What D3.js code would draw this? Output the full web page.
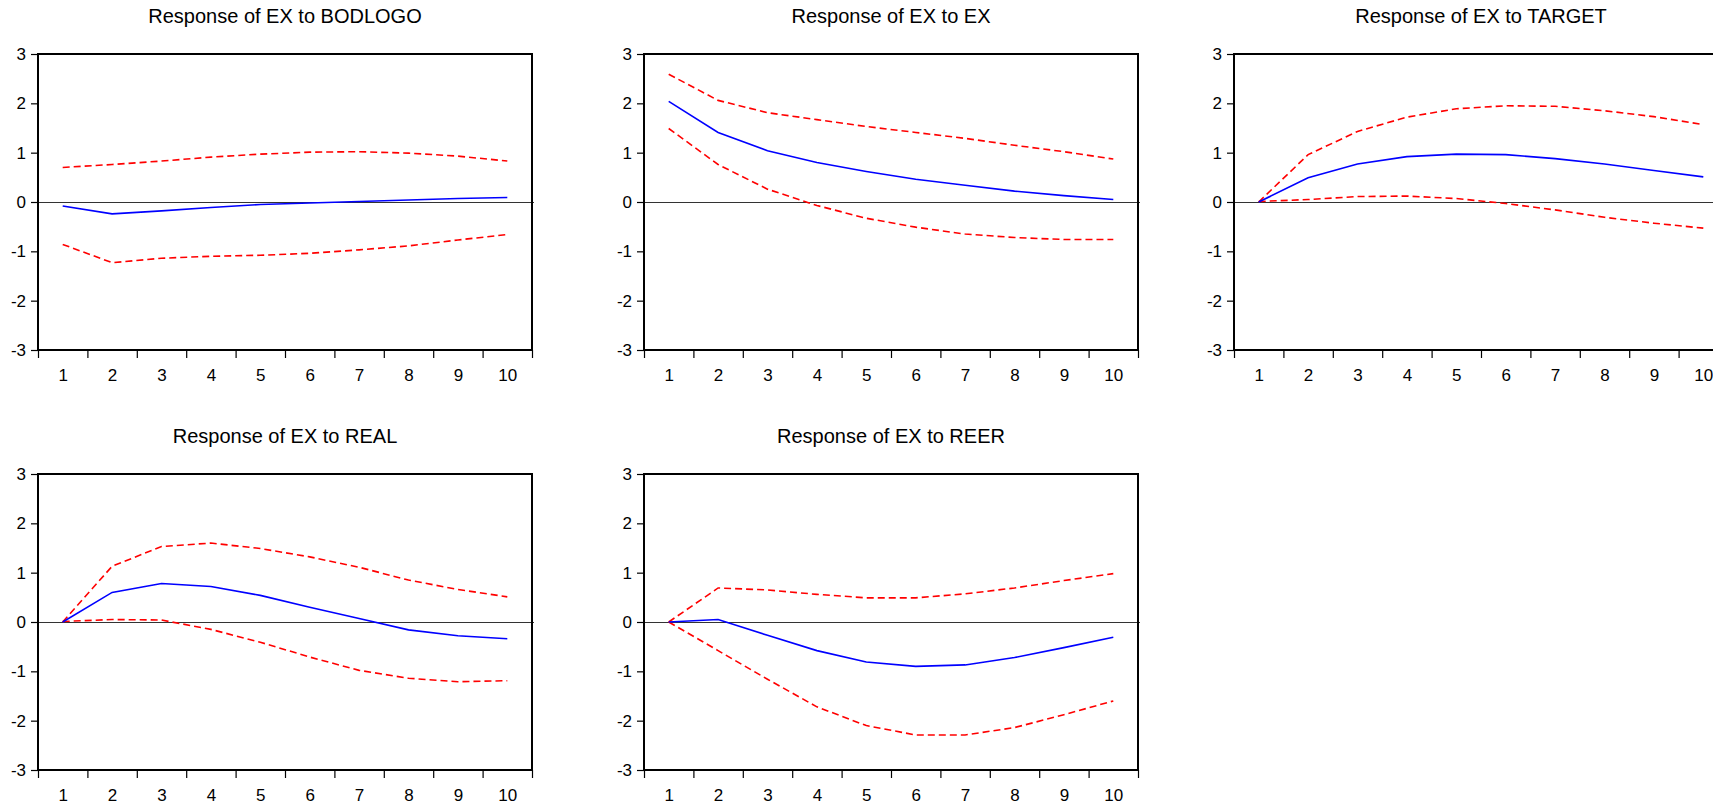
<!DOCTYPE html>
<html>
<head>
<meta charset="utf-8">
<script src="https://cdn.jsdelivr.net/npm/d3@7"></script>
<style>
  body { margin: 0; background: #fff; }
  svg { display: block; font-family: "Liberation Sans", Arial, sans-serif; }
</style>
</head>
<body>
<div id="chart"></div>
<script>
// periods on the x axis
const periods = [1, 2, 3, 4, 5, 6, 7, 8, 9, 10];
const yTicks = [-3, -2, -1, 0, 1, 2, 3];

// response of EX to BODLOGO
const bodlogo_resp  = [-0.08, -0.24, -0.18, -0.11, -0.05, -0.02, 0.01, 0.04, 0.07, 0.09];
const bodlogo_upper = [0.70, 0.76, 0.83, 0.91, 0.97, 1.01, 1.02, 0.99, 0.93, 0.83];
const bodlogo_lower = [-0.86, -1.23, -1.14, -1.10, -1.08, -1.04, -0.97, -0.89, -0.77, -0.66];

// response of EX to EX
const ex_resp  = [2.04, 1.41, 1.04, 0.80, 0.62, 0.46, 0.34, 0.22, 0.13, 0.05];
const ex_upper = [2.59, 2.06, 1.81, 1.67, 1.53, 1.41, 1.29, 1.15, 1.02, 0.87];
const ex_lower = [1.49, 0.76, 0.26, -0.07, -0.33, -0.51, -0.65, -0.72, -0.76, -0.76];

// response of EX to TARGET
const target_resp  = [0.00, 0.49, 0.77, 0.92, 0.97, 0.96, 0.88, 0.77, 0.64, 0.51];
const target_upper = [0.00, 0.96, 1.43, 1.72, 1.89, 1.95, 1.94, 1.85, 1.73, 1.57];
const target_lower = [0.01, 0.05, 0.11, 0.12, 0.07, -0.03, -0.16, -0.31, -0.43, -0.53];

// response of EX to REAL
const real_resp  = [0.00, 0.60, 0.78, 0.72, 0.54, 0.30, 0.07, -0.16, -0.28, -0.34];
const real_upper = [0.00, 1.13, 1.53, 1.60, 1.49, 1.32, 1.11, 0.85, 0.66, 0.51];
const real_lower = [0.01, 0.05, 0.04, -0.15, -0.41, -0.71, -0.98, -1.14, -1.21, -1.19];

// response of EX to REER
const reer_resp  = [0.00, 0.05, -0.27, -0.58, -0.81, -0.90, -0.87, -0.72, -0.52, -0.31];
const reer_upper = [0.00, 0.69, 0.65, 0.56, 0.49, 0.49, 0.57, 0.69, 0.84, 0.98];
const reer_lower = [0.00, -0.58, -1.16, -1.72, -2.10, -2.29, -2.29, -2.14, -1.88, -1.60];

const titles = ["Response of EX to BODLOGO", "Response of EX to EX", "Response of EX to TARGET",
                "Response of EX to REAL", "Response of EX to REER"];

const panels = [
  {title: titles[0], resp: bodlogo_resp, upper: bodlogo_upper, lower: bodlogo_lower, left: 38, top: 54},
  {title: titles[1], resp: ex_resp, upper: ex_upper, lower: ex_lower, left: 644, top: 54},
  {title: titles[2], resp: target_resp, upper: target_upper, lower: target_lower, left: 1234, top: 54},
  {title: titles[3], resp: real_resp, upper: real_upper, lower: real_lower, left: 38, top: 474},
  {title: titles[4], resp: reer_resp, upper: reer_upper, lower: reer_lower, left: 644, top: 474}
];

const width = 494, height = 296;

const svg = d3.select("#chart")
  .append("svg")
    .attr("width", 1713)
    .attr("height", 802);

const x = d3.scaleLinear().domain([0.5, 10.5]).range([0, width]);
const y = d3.scaleLinear().domain([-3, 3]).range([height, 0]);

const line = d3.line()
  .x((d, i) => x(periods[i]))
  .y(d => y(d));

panels.forEach(function(p) {
  const g = svg.append("g")
    .attr("transform", `translate(${p.left}, ${p.top})`);

  // title
  g.append("text")
    .attr("x", width / 2)
    .attr("y", -31)
    .attr("text-anchor", "middle")
    .style("font-size", "20px")
    .text(p.title);

  // Y axis (plain hyphen for negatives, like the original)
  const yAxis = g.append("g")
    .call(d3.axisLeft(y).tickValues(yTicks).tickSize(7).tickPadding(5).tickFormat(d => String(d)));
  yAxis.select(".domain").remove();
  yAxis.selectAll("line").attr("stroke", "#000").attr("stroke-width", 1.2);
  yAxis.selectAll("text").style("font-size", "17px").attr("fill", "#000");

  // X axis tick marks at period boundaries
  const xTickAxis = g.append("g")
    .attr("transform", `translate(0, ${height})`)
    .call(d3.axisBottom(x).tickValues(d3.range(0.5, 11, 1)).tickSize(8).tickFormat(""));
  xTickAxis.select(".domain").remove();
  xTickAxis.selectAll("line").attr("stroke", "#000").attr("stroke-width", 1.2);

  // X axis labels at period centres
  const xLabelAxis = g.append("g")
    .attr("transform", `translate(0, ${height})`)
    .call(d3.axisBottom(x).tickValues(periods).tickSize(0).tickPadding(19).tickFormat(d => String(d)));
  xLabelAxis.select(".domain").remove();
  xLabelAxis.selectAll("text").style("font-size", "17px").attr("fill", "#000");

  // zero line
  g.append("line")
    .attr("x1", 0).attr("x2", width + 2)
    .attr("y1", y(0) + 0.5).attr("y2", y(0) + 0.5)
    .attr("stroke", "#333")
    .attr("stroke-width", 1);

  // confidence bands
  [p.upper, p.lower].forEach(function(band) {
    g.append("path")
      .datum(band)
      .attr("d", line)
      .attr("fill", "none")
      .attr("stroke", "#ff0000")
      .attr("stroke-width", 1.6)
      .attr("stroke-dasharray", "7,4");
  });

  // response
  g.append("path")
    .datum(p.resp)
    .attr("d", line)
    .attr("fill", "none")
    .attr("stroke", "#0000ff")
    .attr("stroke-width", 1.6);

  // frame
  g.append("rect")
    .attr("x", 0).attr("y", 0)
    .attr("width", width).attr("height", height)
    .attr("fill", "none")
    .attr("stroke", "#000")
    .attr("stroke-width", 2);
});
</script>
</body>
</html>
